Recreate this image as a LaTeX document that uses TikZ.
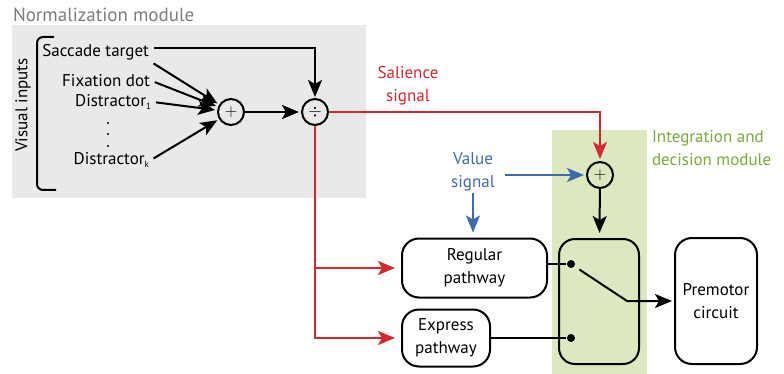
\documentclass[tikz,border=0pt]{standalone}
\usepackage{fontspec}
\setmainfont{PT Sans}
\usetikzlibrary{arrows.meta, positioning, calc}
\definecolor{salred}{RGB}{212, 40, 46}
\definecolor{valblue}{RGB}{62, 106, 176}
\definecolor{intgreen}{RGB}{122, 170, 62}
\definecolor{intfill}{RGB}{220, 233, 190}
\definecolor{normfill}{RGB}{233, 233, 233}
\definecolor{normtext}{RGB}{125, 125, 125}
\newcommand{\subidx}[1]{\raisebox{-3pt}{\fontsize{9}{9}\selectfont #1}}

\begin{document}
\begin{tikzpicture}[x=1pt, y=-1pt, line width=2pt,
  >={Stealth[length=17pt, width=14pt, inset=4pt]},
  txt/.style={font=\fontsize{17}{23}\selectfont, inner sep=1pt},
  op/.style={circle, draw, minimum size=26pt, inner sep=0pt, font=\fontsize{18}{18}\selectfont},
  path/.style={draw, rounded corners=17pt, align=center, txt},
  pin/.style={circle, fill, minimum size=8pt, inner sep=0pt}]
  \useasboundingbox (0,0) rectangle (784,374);

  % module backgrounds
  \fill[normfill] (12,25) rectangle (366,198);
  \fill[intfill] (552,130) rectangle (647,374);
  \node[normtext, anchor=west, font=\fontsize{19}{23}\selectfont, inner sep=1pt] (normtitle) at (11,15) {Normalization module};
  \node[txt, intgreen, anchor=west, align=left] (inttitle) at (650,148) {Integration and\\decision module};

  % visual inputs
  \draw[rounded corners=6pt] (54,37) -- (37,37) -- (37,190) -- (56,190);
  \node[txt, rotate=90] (vis) at (23,105) {Visual inputs};
  \node[txt, anchor=east] (st) at (151,52) {Saccade target};
  \node[txt, anchor=east] (fix) at (152,81) {Fixation dot};
  \node[txt, anchor=east] (d1) at (153,102) {Distractor\subidx{1}};
  \node[txt, anchor=east] (dk) at (151,160) {Distractor\subidx{k}};
  \foreach \y in {123,134,146}
    \fill (108,\y) circle (1.2pt);

  % normalization
  \node[op] (plus) at (231,112) {$+$};
  \node[op] (div) at (315,112) {$\div$};
  \foreach \src in {st.south east, fix.east, d1.east, dk.east}
    \draw[->, shorten <=3pt, shorten >=2pt] (\src) -- (plus);
  \draw[->, shorten >=2pt] (plus) -- (div);
  \draw[->, shorten >=1pt] ([shift={(3,-4)}]st.east) -| (div);

  % integration and decision
  \node[op] (isum) at (600,175) {$+$};
  \node[path, minimum width=145pt, minimum height=59pt] (reg) at (474.5,268) {Regular\\pathway};
  \node[path, minimum width=88pt, minimum height=57pt] (exp) at (446,338) {Express\\pathway};
  \node[draw, rounded corners=16pt, minimum width=80pt, minimum height=125pt] (sw) at (599,301.5) {};
  \node[path, minimum width=82pt, minimum height=126pt] (pm) at (716,301) {Premotor\\circuit};
  \node[pin] (p1) at (571,264) {};
  \node[pin] (p2) at (571,338) {};
  \coordinate (knee) at (627,301);

  % salience signal
  \node[txt, salred, align=center] (sal) at (408,86) {Salience\\signal};
  \draw[salred, ->, shorten >=2pt] (div) -| (isum);
  \draw[salred, ->, shorten >=6pt] (div) |- (exp);
  \draw[salred, ->, shorten >=6pt] (div |- reg) -- (reg);

  % value signal
  \node[txt, valblue, align=center] (val) at (473,172) {Value\\signal};
  \draw[valblue, ->, shorten <=8pt, shorten >=2pt] (val.east |- isum) -- (isum);
  \draw[valblue, ->, shorten >=5pt] (val) -- (val |- reg.north);

  % switch
  \draw[->, shorten >=5pt] (isum) -- (sw);
  \draw (reg.east |- p1) -- (p1);
  \draw (exp.east |- p2) -- (p2);
  \draw[->, shorten <=5pt, shorten >=2pt] (p1) -- (knee) -- (pm);
\end{tikzpicture}
\end{document}
